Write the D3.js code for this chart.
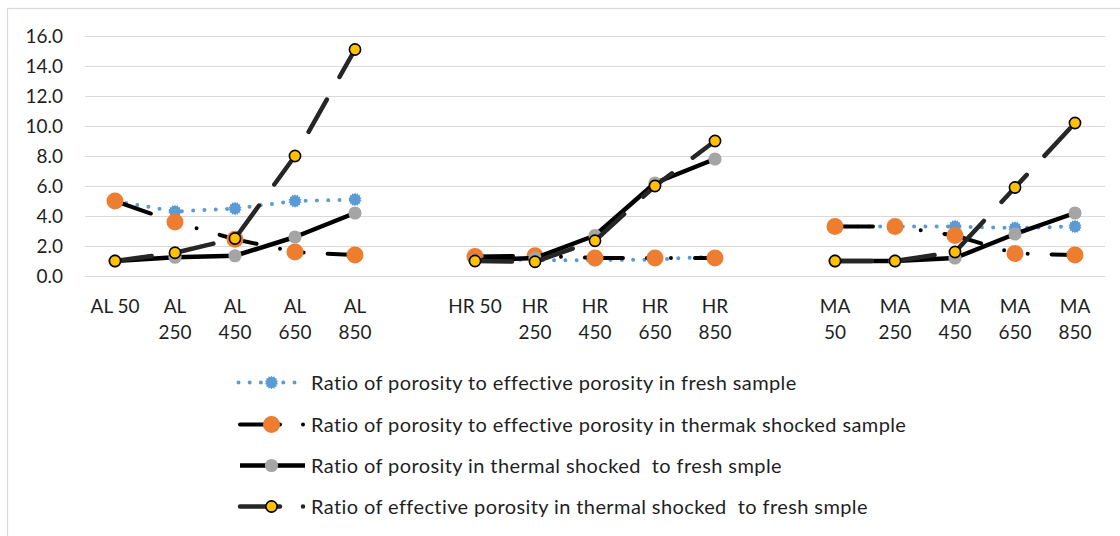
<!DOCTYPE html>
<html>
<head>
<meta charset="utf-8">
<script src="https://cdn.jsdelivr.net/npm/d3@7/dist/d3.min.js"></script>
<style>
  html, body { margin: 0; padding: 0; background: #fff; }
  svg { display: block; font-family: Lato, "Open Sans", sans-serif; }
  text { white-space: pre; }
</style>
</head>
<body>
<svg id="chart" width="1120" height="536"></svg>
<script>
// Sample categories; empty strings are spacer slots between rock groups
const categories = [
  "AL 50", "AL 250", "AL 450", "AL 650", "AL 850", "",
  "HR 50", "HR 250", "HR 450", "HR 650", "HR 850", "",
  "MA 50", "MA 250", "MA 450", "MA 650", "MA 850"
];

// Series values (null in spacer slots)
const freshRatio = [
  5.0, 4.3, 4.5, 5.0, 5.1, null,
  1.2, 1.05, 1.05, 1.1, 1.3, null,
  3.3, 3.3, 3.3, 3.2, 3.3
];
const shockedRatio = [
  5.0, 3.6, 2.45, 1.6, 1.4, null,
  1.3, 1.35, 1.2, 1.2, 1.2, null,
  3.3, 3.3, 2.7, 1.5, 1.4
];
const porosityShockedToFresh = [
  1.0, 1.25, 1.35, 2.6, 4.2, null,
  1.05, 1.2, 2.7, 6.2, 7.8, null,
  1.0, 1.0, 1.2, 2.8, 4.2
];
const effPorosityShockedToFresh = [
  1.0, 1.55, 2.5, 8.0, 15.1, null,
  1.0, 0.95, 2.35, 6.0, 9.0, null,
  1.0, 1.0, 1.6, 5.9, 10.2
];

const seriesNames = [
  "Ratio of porosity to effective porosity in fresh sample",
  "Ratio of porosity to effective porosity in thermak shocked sample",
  "Ratio of porosity in thermal shocked  to fresh smple",
  "Ratio of effective porosity in thermal shocked  to fresh smple"
];

const yTicks = [0, 2, 4, 6, 8, 10, 12, 14, 16];

// ---- styling ----
const styles = [
  { values: freshRatio, stroke: "#5B9BD5", width: 4, dash: "0,11.3", legendDash: "0,11.2", marker: "star", fill: "#5B9BD5", r: 6.8 },
  { values: shockedRatio, stroke: "#000000", width: 4, dash: "38,24,0,24,0,24", legendDash: "40,23,0,100", marker: "circle", fill: "#ED7D31", r: 8.5 },
  { values: porosityShockedToFresh, stroke: "#000000", width: 4.5, dash: null, legendDash: null, marker: "circle", fill: "#A5A5A5", r: 6.6 },
  { values: effPorosityShockedToFresh, stroke: "#262626", width: 4.5, dash: "37,26", legendDash: "40,23,0,100", marker: "circle", fill: "#FFC000", r: 5.6, outline: "#000", outlineWidth: 1.6 }
];

const svg = d3.select("#chart");
const W = 1120, H = 536;
const plot = { left: 85, right: 1105, top: 36, bottom: 276 };
const textColor = "#1f1f1f";
const fontSize = 19;

svg.append("rect").attr("width", W).attr("height", H).attr("fill", "#fff");
// chart frame
svg.append("rect")
  .attr("x", 7.5).attr("y", 8.5)
  .attr("width", W + 20).attr("height", H + 20)
  .attr("fill", "none").attr("stroke", "#d9d9d9").attr("stroke-width", 1.2);

const x = d3.scaleBand().domain(d3.range(categories.length)).range([plot.left, plot.right]).padding(0);
const y = d3.scaleLinear().domain([0, 16]).range([plot.bottom, plot.top]);
const cx = i => x(i) + x.bandwidth() / 2;

// y axis with gridlines
const yAxis = d3.axisLeft(y)
  .tickValues(yTicks)
  .tickFormat(d3.format(".1f"))
  .tickSizeInner(-(plot.right - plot.left))
  .tickSizeOuter(0)
  .tickPadding(22);
const gy = svg.append("g").attr("transform", `translate(${plot.left},0)`).call(yAxis);
gy.select(".domain").remove();
gy.selectAll(".tick line").attr("stroke", "#d9d9d9").attr("stroke-width", 1.2);
gy.selectAll(".tick text")
  .attr("fill", textColor).attr("font-size", fontSize).attr("font-family", "Lato");

// x axis labels (wrapped when too wide for the slot)
const xAxis = d3.axisBottom(x).tickSize(0).tickPadding(0).tickFormat(i => categories[i]);
const gx = svg.append("g").attr("transform", `translate(0,${plot.bottom})`).call(xAxis);
gx.select(".domain").remove();
gx.selectAll(".tick text")
  .attr("fill", textColor).attr("font-size", fontSize).attr("font-family", "Lato")
  .each(function (i) {
    const t = d3.select(this);
    const label = categories[i];
    t.text(null).attr("y", 0).attr("dy", null);
    if (!label) return;
    const probe = t.append("tspan").text(label);
    const wide = probe.node().getComputedTextLength() > 54.5;
    probe.remove();
    const lines = wide ? label.split(" ") : [label];
    lines.forEach((ln, k) => {
      t.append("tspan").attr("x", 0).attr("y", 37 + k * 26).text(ln);
    });
  });

// split a series into contiguous runs so each group gets its own line
function runs(values) {
  const out = [];
  let cur = [];
  values.forEach((v, i) => {
    if (v == null) { if (cur.length) out.push(cur); cur = []; }
    else cur.push({ i, v });
  });
  if (cur.length) out.push(cur);
  return out;
}

const line = d3.line().x(d => cx(d.i)).y(d => y(d.v));

function starPath(r) {
  const n = 14, inner = r * 0.78;
  const pts = [];
  for (let k = 0; k < n * 2; k++) {
    const rr = k % 2 === 0 ? r : inner;
    const a = (Math.PI * k) / n - Math.PI / 2;
    pts.push([rr * Math.cos(a), rr * Math.sin(a)]);
  }
  return "M" + pts.map(p => p.join(",")).join("L") + "Z";
}

function drawMarker(g, s, px, py) {
  if (s.marker === "star") {
    g.append("path").attr("d", starPath(s.r)).attr("transform", `translate(${px},${py})`).attr("fill", s.fill);
  } else {
    g.append("circle").attr("cx", px).attr("cy", py).attr("r", s.r)
      .attr("fill", s.fill)
      .attr("stroke", s.outline || "none")
      .attr("stroke-width", s.outlineWidth || 0);
  }
}

// series: line then markers, in order
styles.forEach(s => {
  const g = svg.append("g");
  runs(s.values).forEach(run => {
    g.append("path").datum(run).attr("d", line)
      .attr("fill", "none").attr("stroke", s.stroke).attr("stroke-width", s.width)
      .attr("stroke-linecap", "round").attr("stroke-linejoin", "round")
      .attr("stroke-dasharray", s.dash);
  });
  s.values.forEach((v, i) => { if (v != null) drawMarker(g, s, cx(i), y(v)); });
});

// legend
const legendRows = [382.5, 424.5, 465.5, 506.5];
const lg = svg.append("g");
styles.forEach((s, k) => {
  const ry = legendRows[k];
  const x0 = s.dash === "0,11.3" ? 238.5 : 240, x1 = 305;
  lg.append("line").attr("x1", x0).attr("x2", x1).attr("y1", ry).attr("y2", ry)
    .attr("stroke", s.stroke).attr("stroke-width", s.width)
    .attr("stroke-linecap", s.dash ? "round" : "butt")
    .attr("stroke-dasharray", s.legendDash);
  drawMarker(lg, s, 271.5, ry);
  lg.append("text").attr("x", 311).attr("y", ry).attr("dy", "0.36em")
    .attr("fill", textColor).attr("font-size", 20).attr("letter-spacing", 0.4)
    .attr("font-family", "Lato")
    .text(seriesNames[k]);
});
</script>
</body>
</html>
